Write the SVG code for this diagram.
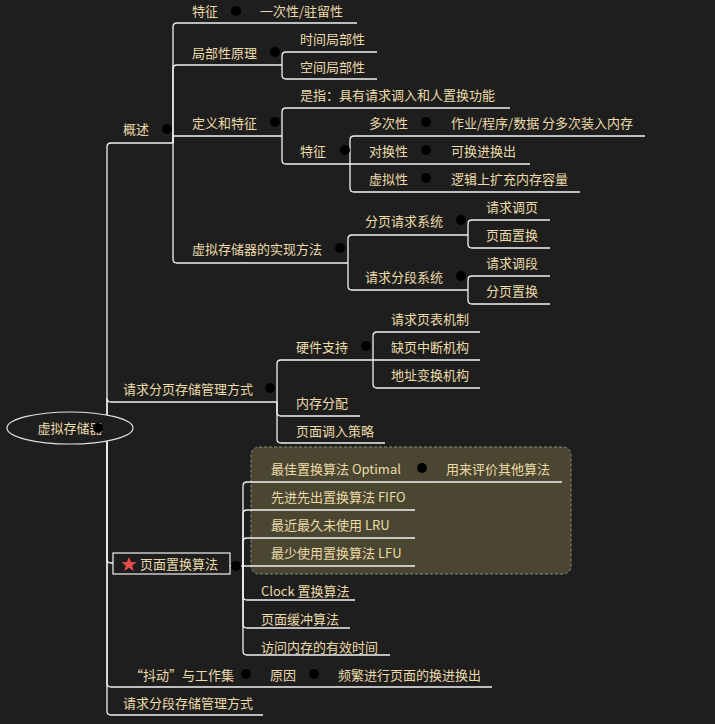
<svg xmlns="http://www.w3.org/2000/svg" width="715" height="724" viewBox="0 0 715 724">
<style>
text{font-family:"Noto Sans CJK SC","Liberation Sans",sans-serif;font-size:13px;fill:#eadba8}
.c{fill:none;stroke:#f2f2f2;stroke-width:1.3}
.k circle{fill:#f4f4f4;stroke:#999;stroke-width:0.6}
.k path{stroke:#5a6ea8;stroke-width:1.4}
</style>
<defs><g id="m"><circle r="5"/><path d="M-3 0H3"/></g></defs>
<rect width="715" height="724" fill="#1f1e1f"/>
<rect x="251" y="447" width="320" height="127" rx="8" fill="#4a4632" stroke="#8a8a80" stroke-dasharray="3,2"/>
<g id="connectors" class="c">
<path d="M98 428H107"/>
<path d="M107 428V147Q107 143 111 143H173"/>
<path d="M107 428V398Q107 402 111 402H277"/>
<path d="M107 428V559Q107 563 111 563H113"/>
<path d="M107 428V683Q107 687 111 687H492"/>
<path d="M107 428V711Q107 715 111 715H263"/>
<path d="M173 143V27Q173 23 177 23H357"/>
<path d="M173 143V69Q173 65 177 65H282"/>
<path d="M173 143V136H282"/>
<path d="M173 143V259Q173 263 177 263H348"/>
<path d="M282 65V56Q282 52 286 52H377"/>
<path d="M282 65V75Q282 79 286 79H377"/>
<path d="M282 136V112Q282 108 286 108H510"/>
<path d="M282 136V160Q282 164 286 164H350"/>
<path d="M350 164V140Q350 136 354 136H645"/>
<path d="M350 164H530"/>
<path d="M350 164V188Q350 192 354 192H580"/>
<path d="M348 263V239Q348 235 352 235H468"/>
<path d="M348 263V286Q348 290 352 290H468"/>
<path d="M468 235V224Q468 220 472 220H550"/>
<path d="M468 235V244Q468 248 472 248H550"/>
<path d="M468 290V280Q468 276 472 276H550"/>
<path d="M468 290V300Q468 304 472 304H550"/>
<path d="M277 402V364Q277 360 281 360H373"/>
<path d="M277 402V412Q277 416 281 416H360"/>
<path d="M277 402V439Q277 443 281 443H385"/>
<path d="M373 360V336Q373 332 377 332H480"/>
<path d="M373 360H480"/>
<path d="M373 360V384Q373 388 377 388H480"/>
<path d="M230 566H243"/>
<path d="M243 566V486Q243 482 247 482H432"/>
<path d="M432 482H562"/>
<path d="M243 566V514Q243 510 247 510H415"/>
<path d="M243 566V542Q243 538 247 538H415"/>
<path d="M243 566H415"/>
<path d="M243 566V596Q243 600 247 600H355"/>
<path d="M243 566V624Q243 628 247 628H350"/>
<path d="M243 566V651Q243 655 247 655H390"/>
</g>
<g id="root"><ellipse cx="70" cy="428" rx="63" ry="16" fill="#1f1e1f" stroke="#e0e0e0" stroke-width="1.2"/><text x="70" y="433" text-anchor="middle">虚拟存储器</text></g>
<g id="n-gs"><text x="123" y="134">概述</text></g>
<g id="n-tz1"><text x="192" y="16">特征</text><text x="260" y="16">一次性/驻留性</text></g>
<g id="n-jb"><text x="192" y="58">局部性原理</text><text x="300" y="44">时间局部性</text><text x="300" y="72">空间局部性</text></g>
<g id="n-dy"><text x="192" y="128">定义和特征</text><text x="300" y="100">是指：具有请求调入和人置换功能</text><text x="300" y="156">特征</text>
<text x="369" y="128">多次性</text><text x="451" y="128">作业/程序/数据 分多次装入内存</text>
<text x="369" y="156">对换性</text><text x="451" y="156">可换进换出</text>
<text x="369" y="184">虚拟性</text><text x="451" y="184">逻辑上扩充内存容量</text></g>
<g id="n-sx"><text x="192" y="254">虚拟存储器的实现方法</text><text x="365" y="226">分页请求系统</text><text x="486" y="212">请求调页</text><text x="486" y="240">页面置换</text>
<text x="365" y="282">请求分段系统</text><text x="486" y="268">请求调段</text><text x="486" y="296">分页置换</text></g>
<g id="n-qf"><text x="123" y="394">请求分页存储管理方式</text><text x="296" y="352">硬件支持</text><text x="391" y="324">请求页表机制</text><text x="391" y="352">缺页中断机构</text><text x="391" y="380">地址变换机构</text><text x="296" y="408">内存分配</text><text x="296" y="436">页面调入策略</text></g>
<g id="n-zh"><rect x="113" y="553" width="117" height="21" fill="#1f1e1f" stroke="#f2f2f2" stroke-width="1.2"/>
<path d="M129 557L131 562L136.5 562.2L132.2 565.6L133.7 571L129 567.8L124.3 571L125.8 565.6L121.5 562.2L127 562Z" fill="#e84c4c"/>
<text x="140" y="569">页面置换算法</text>
<text x="271" y="474">最佳置换算法 Optimal</text><text x="446" y="474">用来评价其他算法</text>
<text x="271" y="502">先进先出置换算法 FIFO</text><text x="271" y="530">最近最久未使用 LRU</text><text x="271" y="558">最少使用置换算法 LFU</text>
<text x="261" y="596">Clock 置换算法</text><text x="261" y="624">页面缓冲算法</text><text x="261" y="652">访问内存的有效时间</text></g>
<g id="n-dd"><text x="130" y="680">“抖动”与工作集</text><text x="270" y="680">原因</text><text x="338" y="680">频繁进行页面的换进换出</text></g>
<g id="n-qd"><text x="123" y="708">请求分段存储管理方式</text></g>
<g class="k">
<use href="#m" x="98" y="428"/><use href="#m" x="167" y="129"/><use href="#m" x="236" y="11"/><use href="#m" x="275" y="52"/><use href="#m" x="275" y="122"/><use href="#m" x="345" y="150"/><use href="#m" x="426" y="122"/><use href="#m" x="426" y="150"/><use href="#m" x="426" y="178"/><use href="#m" x="340" y="248"/><use href="#m" x="461" y="220"/><use href="#m" x="461" y="276"/><use href="#m" x="270" y="388"/><use href="#m" x="366" y="346"/><use href="#m" x="236" y="566"/><use href="#m" x="422" y="468"/><use href="#m" x="246" y="674"/><use href="#m" x="314" y="674"/>
</g>
</svg>
